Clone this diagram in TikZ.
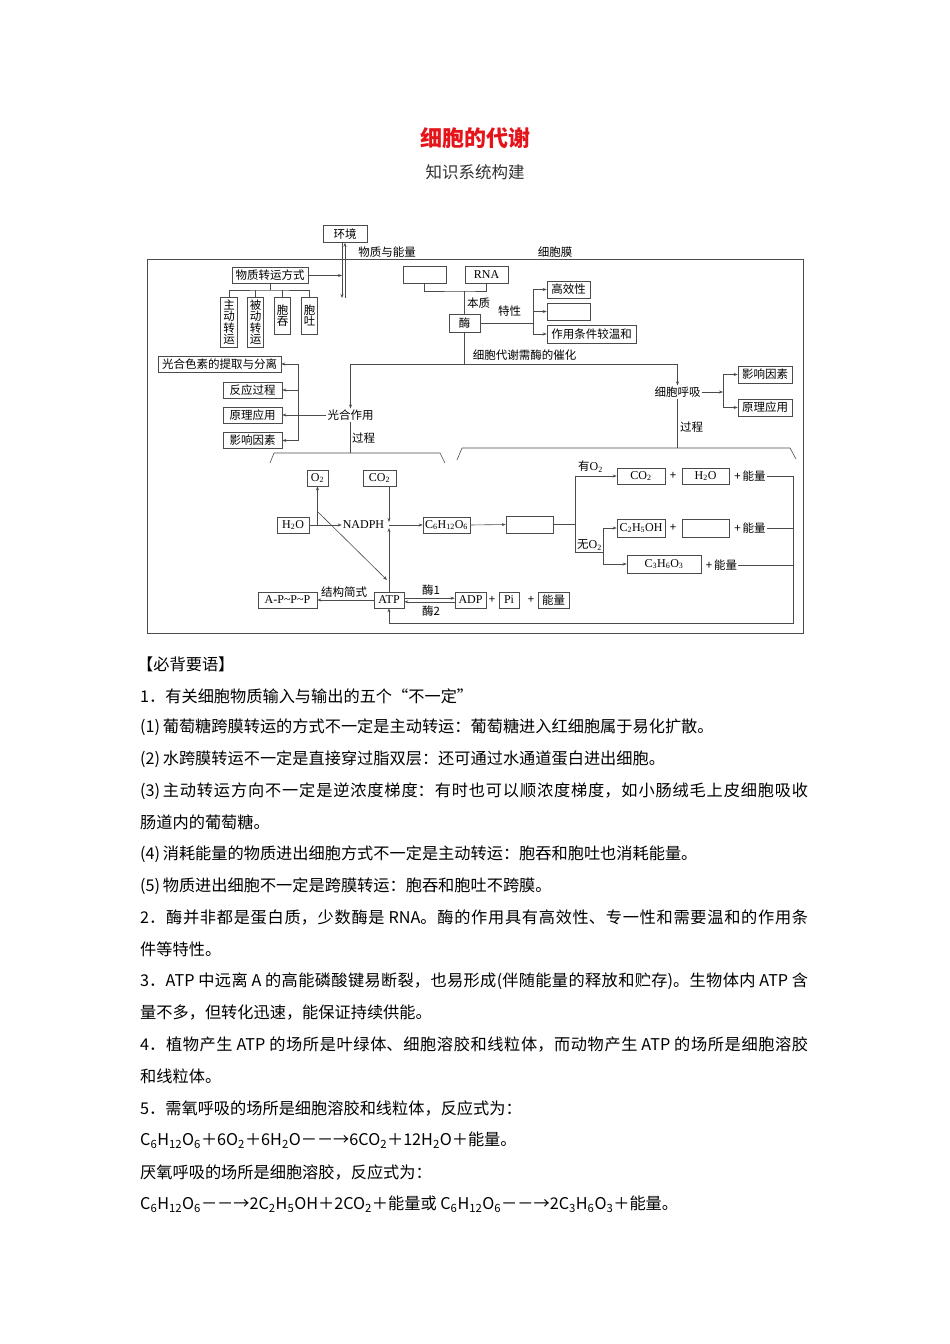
\documentclass[tikz,border=0pt]{standalone}
\usepackage{fontspec}
\setmainfont{Noto Sans CJK SC}
\newfontfamily\tms{Liberation Serif}
\usepackage{xcolor}
\usetikzlibrary{arrows.meta}
\definecolor{titred}{RGB}{228,20,26}
\definecolor{lnc}{RGB}{75,75,75}
\newcommand{\latn}[1]{{\tms\fontsize{12}{12}\selectfont #1}}
\newcommand{\jline}[1]{\parbox{668pt}{\XeTeXlinebreaklocale "zh"\XeTeXlinebreakskip=0pt plus 4pt\parfillskip=0pt #1}}

\begin{document}
\begin{tikzpicture}[x=1pt,y=-1pt,
  dfont/.style={font=\fontsize{11.5}{11.5}\selectfont},
  box/.style={draw=lnc, line width=0.6pt, minimum height=16pt, inner sep=1pt, dfont},
  vbox/.style={box, align=center, minimum width=16.5pt},
  lbl/.style={inner sep=1pt, dfont},
  ln/.style={draw=lnc, line width=0.6pt},
  arr/.style={ln, -{Stealth[length=4pt,width=3pt]}},
  txt/.style={inner sep=0pt, anchor=west, font=\fontsize{16.2}{20}\selectfont}]

\fill[white] (0,0) rectangle (950,1344);

\node[font=\fontsize{22}{22}\selectfont\bfseries, text=titred] (title) at (475,138) {细胞的代谢};
\node[font=\fontsize{16.5}{16.5}\selectfont, text=black!80] (sub) at (475,172) {知识系统构建};

% cell frame
\draw[ln] (147,259) rectangle (803,633);

\node[box, minimum width=44pt, minimum height=17pt] (env) at (345,234) {环境};
\node[lbl] (wzny) at (387,252) {物质与能量};
\node[lbl] (xbm) at (555,252) {细胞膜};
\coordinate (mb1) at (342,298);
\coordinate (mb2) at (345,298);
\draw[arr] (env.south -| mb1) -- (mb1);
\draw[arr] (mb2) -- (env.south -| mb2);

% transport
\node[box, minimum width=76pt] (zy) at (270,275.5) {物质转运方式};
\draw[arr] (zy.east) -- (zy.east -| mb1);
\node[vbox, minimum height=50pt] (zd) at (229,322) {主\\动\\转\\运};
\node[vbox, minimum height=50pt] (bd) at (255.5,322) {被\\动\\转\\运};
\node[vbox, minimum height=37pt] (bt) at (282.5,315.5) {胞\\吞};
\node[vbox, minimum height=37pt] (bu) at (309.5,315.5) {胞\\吐};
\coordinate (zyj) at (270,290);
\draw[ln] (zy.south) -- (zyj);
\draw[ln] (zd.north) |- (zyj) -| (bu.north);
\draw[ln] (bd.north) -- (bd.north |- zyj);
\draw[ln] (bt.north) -- (bt.north |- zyj);

% enzyme
\node[box, minimum width=43pt, minimum height=17pt] (e1) at (424.5,274.5) {};
\node[box, minimum width=43pt, minimum height=17pt] (rna) at (486.5,274.5) {\latn{RNA}};
\node[box, minimum width=31pt, minimum height=18pt] (mei) at (464.5,323) {酶};
\coordinate (mz) at (464.5,291);
\draw[ln] (e1.south) |- (mz) -| (rna.south);
\draw[ln] (mz) -- (mei.north);
\node[lbl] (bz) at (478.5,303) {本质};
\node[lbl] (tx) at (509.5,311) {特性};
\node[box, minimum width=43pt, minimum height=17pt] (gx) at (568.5,289.5) {高效性};
\node[box, minimum width=43pt, minimum height=17pt] (e2) at (568.5,311.5) {};
\node[box, minimum width=89pt, minimum height=18pt] (wh) at (591.5,334) {作用条件较温和};
\coordinate (txj) at (533,323);
\draw[ln] (mei.east) -- (txj);
\draw[arr] (txj) |- (gx.west);
\draw[arr] (txj) |- (e2.west);
\draw[arr] (txj) |- (wh.west);
\node[lbl] (cz) at (524.5,355) {细胞代谢需酶的催化};
\coordinate (mj) at (464.5,364);
\draw[ln] (mei.south) -- (mj);

% photosynthesis
\node[lbl] (gh) at (350.5,415) {光合作用};
\draw[arr] (mj) -| (gh.north);
\node[box, minimum width=123pt] (gs) at (219.5,364) {光合色素的提取与分离};
\node[box, minimum width=59pt] (fy) at (252.5,390) {反应过程};
\node[box, minimum width=59pt] (yl) at (252.5,415) {原理应用};
\node[box, minimum width=59pt] (ys) at (252.5,440.5) {影响因素};
\coordinate (ghj) at (298,415);
\draw[ln] (gh.west) -- (ghj);
\draw[arr] (ghj) |- (gs.east);
\draw[arr] (ghj) |- (fy.east);
\draw[arr] (ghj) -- (yl.east);
\draw[arr] (ghj) |- (ys.east);
\node[lbl] (gc1) at (363.5,438) {过程};
\coordinate (lb) at (350.5,453);
\draw[ln] (gh.south) -- (lb);
\draw[ln] (270,463) -- (274,453) -- (440,453) -- (445,463);

% respiration
\node[lbl] (hx) at (677.5,392) {细胞呼吸};
\draw[arr] (mj) -| (hx.north);
\node[box, minimum width=54pt, minimum height=17pt] (yx2) at (765,374.5) {影响因素};
\node[box, minimum width=54pt, minimum height=17pt] (yy2) at (765,407.5) {原理应用};
\coordinate (hxj) at (723,392);
\draw[arr] (hx.east) -- (hxj);
\draw[arr] (hxj) |- (yx2.west);
\draw[arr] (hxj) |- (yy2.west);
\node[lbl] (gc2) at (691.5,427) {过程};
\coordinate (rb) at (677.5,448);
\draw[ln] (hx.south) -- (rb);
\draw[ln] (457,460) -- (462,448) -- (790,448) -- (796,459);

% light and dark reactions
\node[box, minimum width=21pt] (o2) at (317.5,478) {\latn{O\textsubscript{2}}};
\node[box, minimum width=33pt] (co2a) at (379.5,478) {\latn{CO\textsubscript{2}}};
\node[box, minimum width=32pt] (h2o) at (293,525) {\latn{H\textsubscript{2}O}};
\node[inner sep=1pt] (nadph) at (363.5,525) {\latn{NADPH}};
\node[box, minimum width=47pt] (glu) at (446.5,525) {\latn{C\textsubscript{6}H\textsubscript{12}O\textsubscript{6}}};
\node[box, minimum width=30pt] (atp) at (389,600) {\latn{ATP}};
\coordinate (wj) at (o2.south |- h2o.east);
\draw[arr] (h2o.east) -- (nadph.west);
\draw[arr] (wj) -- (o2.south);
\coordinate (dg1) at (318,512);
\coordinate (dg2) at (387,580);
\draw[arr] (dg1) -- (dg2);
\coordinate (jn) at (atp.north |- nadph.center);
\draw[arr] (co2a.south -| jn) -- ([yshift=3pt]jn);
\draw[arr] (atp.north) -- ([yshift=-3pt]jn);
\draw[arr] (jn) -- (glu.west);

% ATP
\node[box, minimum width=59pt] (apt) at (287.5,600) {\latn{A-P\textasciitilde P\textasciitilde P}};
\draw[arr] (atp.west) -- (apt.east);
\node[lbl] (jg) at (344,592) {结构简式};
\node[box, minimum width=31pt] (adp) at (470.5,600) {\latn{ADP}};
\draw[arr] ([yshift=1.8pt]atp.east) -- ([yshift=1.8pt]adp.west);
\draw[arr] ([yshift=-1.8pt]adp.west) -- ([yshift=-1.8pt]atp.east);
\node[lbl] (m1) at (431,590) {酶1};
\node[lbl] (m2) at (431,611) {酶2};
\node[lbl] (p1) at (492,600) {+};
\node[box, minimum width=20pt] (pi) at (509,600) {\latn{Pi}};
\node[lbl] (p2) at (531,600) {+};
\node[box, minimum width=31pt] (nl) at (553.5,600) {能量};

% glycolysis and products
\node[box, minimum width=47pt, minimum height=17pt] (e3) at (529.5,524.5) {};
\draw[arr] (glu.east) -- (e3.west);
\coordinate (bj) at (575,524.5);
\coordinate (wy) at (575,552);
\coordinate (wyj) at (603,552);
\draw[ln] (e3.east) -- (bj) -- (wy) -- (wyj);
\node[box, minimum width=48pt] (co2b) at (641,476) {\latn{CO\textsubscript{2}}};
\draw[arr] (bj) |- (co2b.west);
\node[lbl] (yo) at (590.5,467) {有\latn{O\textsubscript{2}}};
\node[lbl] (wo) at (589.5,545) {无\latn{O\textsubscript{2}}};
\node[lbl] (p3) at (673,476) {+};
\node[box, minimum width=47pt] (h2ob) at (705.5,476) {\latn{H\textsubscript{2}O}};
\node[lbl] (nl1) at (750,476) {+\,能量};
\node[box, minimum width=48pt, minimum height=18pt] (c2) at (641,528) {\latn{C\textsubscript{2}H\textsubscript{5}OH}};
\node[lbl] (p4) at (673,528) {+};
\node[box, minimum width=47pt, minimum height=18pt] (e4) at (705.5,528) {};
\node[lbl] (nl2) at (750,528) {+\,能量};
\node[box, minimum width=74pt, minimum height=18pt] (c3) at (664,564) {\latn{C\textsubscript{3}H\textsubscript{6}O\textsubscript{3}}};
\node[lbl] (nl3) at (721.5,565) {+\,能量};
\draw[arr] (wyj) |- (c2.west);
\draw[arr] (wyj) |- (c3.west);

% energy back to ATP
\coordinate (lp1) at (793,476);
\coordinate (lp2) at (793,623);
\draw[ln] (nl1.east) -- (lp1);
\draw[ln] (nl2.east) -- (nl2.east -| lp1);
\draw[ln] (nl3.east) -- (nl3.east -| lp1);
\draw[arr] (lp1) -- (lp2) -| (atp.south);

% key points
\node[txt] (t1) at (137,664) {【必背要语】};
\node[txt] (t2) at (140,696) {1．有关细胞物质输入与输出的五个“不一定”};
\node[txt] (t3) at (140,727) {(1)\,葡萄糖跨膜转运的方式不一定是主动转运：葡萄糖进入红细胞属于易化扩散。};
\node[txt] (t4) at (140,759) {(2)\,水跨膜转运不一定是直接穿过脂双层：还可通过水通道蛋白进出细胞。};
\node[txt] (t5) at (140,791) {\jline{(3)\,主动转运方向不一定是逆浓度梯度：有时也可以顺浓度梯度，如小肠绒毛上皮细胞吸收}};
\node[txt] (t6) at (140,822) {肠道内的葡萄糖。};
\node[txt] (t7) at (140,854) {(4)\,消耗能量的物质进出细胞方式不一定是主动转运：胞吞和胞吐也消耗能量。};
\node[txt] (t8) at (140,886) {(5)\,物质进出细胞不一定是跨膜转运：胞吞和胞吐不跨膜。};
\node[txt] (t9) at (140,918) {\jline{2．酶并非都是蛋白质，少数酶是 RNA。酶的作用具有高效性、专一性和需要温和的作用条}};
\node[txt] (t10) at (140,949) {件等特性。};
\node[txt] (t11) at (140,981) {\jline{3．ATP 中远离 A 的高能磷酸键易断裂，也易形成(伴随能量的释放和贮存)。生物体内 ATP 含}};
\node[txt] (t12) at (140,1013) {量不多，但转化迅速，能保证持续供能。};
\node[txt] (t13) at (140,1045) {\jline{4．植物产生 ATP 的场所是叶绿体、细胞溶胶和线粒体，而动物产生 ATP 的场所是细胞溶胶}};
\node[txt] (t14) at (140,1076) {和线粒体。};
\node[txt] (t15) at (140,1108) {5．需氧呼吸的场所是细胞溶胶和线粒体，反应式为：};
\node[txt] (t16) at (140,1140) {C\textsubscript{6}H\textsubscript{12}O\textsubscript{6}＋6O\textsubscript{2}＋6H\textsubscript{2}O－－→6CO\textsubscript{2}＋12H\textsubscript{2}O＋能量。};
\node[txt] (t17) at (140,1172) {厌氧呼吸的场所是细胞溶胶，反应式为：};
\node[txt] (t18) at (140,1204) {C\textsubscript{6}H\textsubscript{12}O\textsubscript{6}－－→2C\textsubscript{2}H\textsubscript{5}OH＋2CO\textsubscript{2}＋能量或 C\textsubscript{6}H\textsubscript{12}O\textsubscript{6}－－→2C\textsubscript{3}H\textsubscript{6}O\textsubscript{3}＋能量。};
\end{tikzpicture}
\end{document}
